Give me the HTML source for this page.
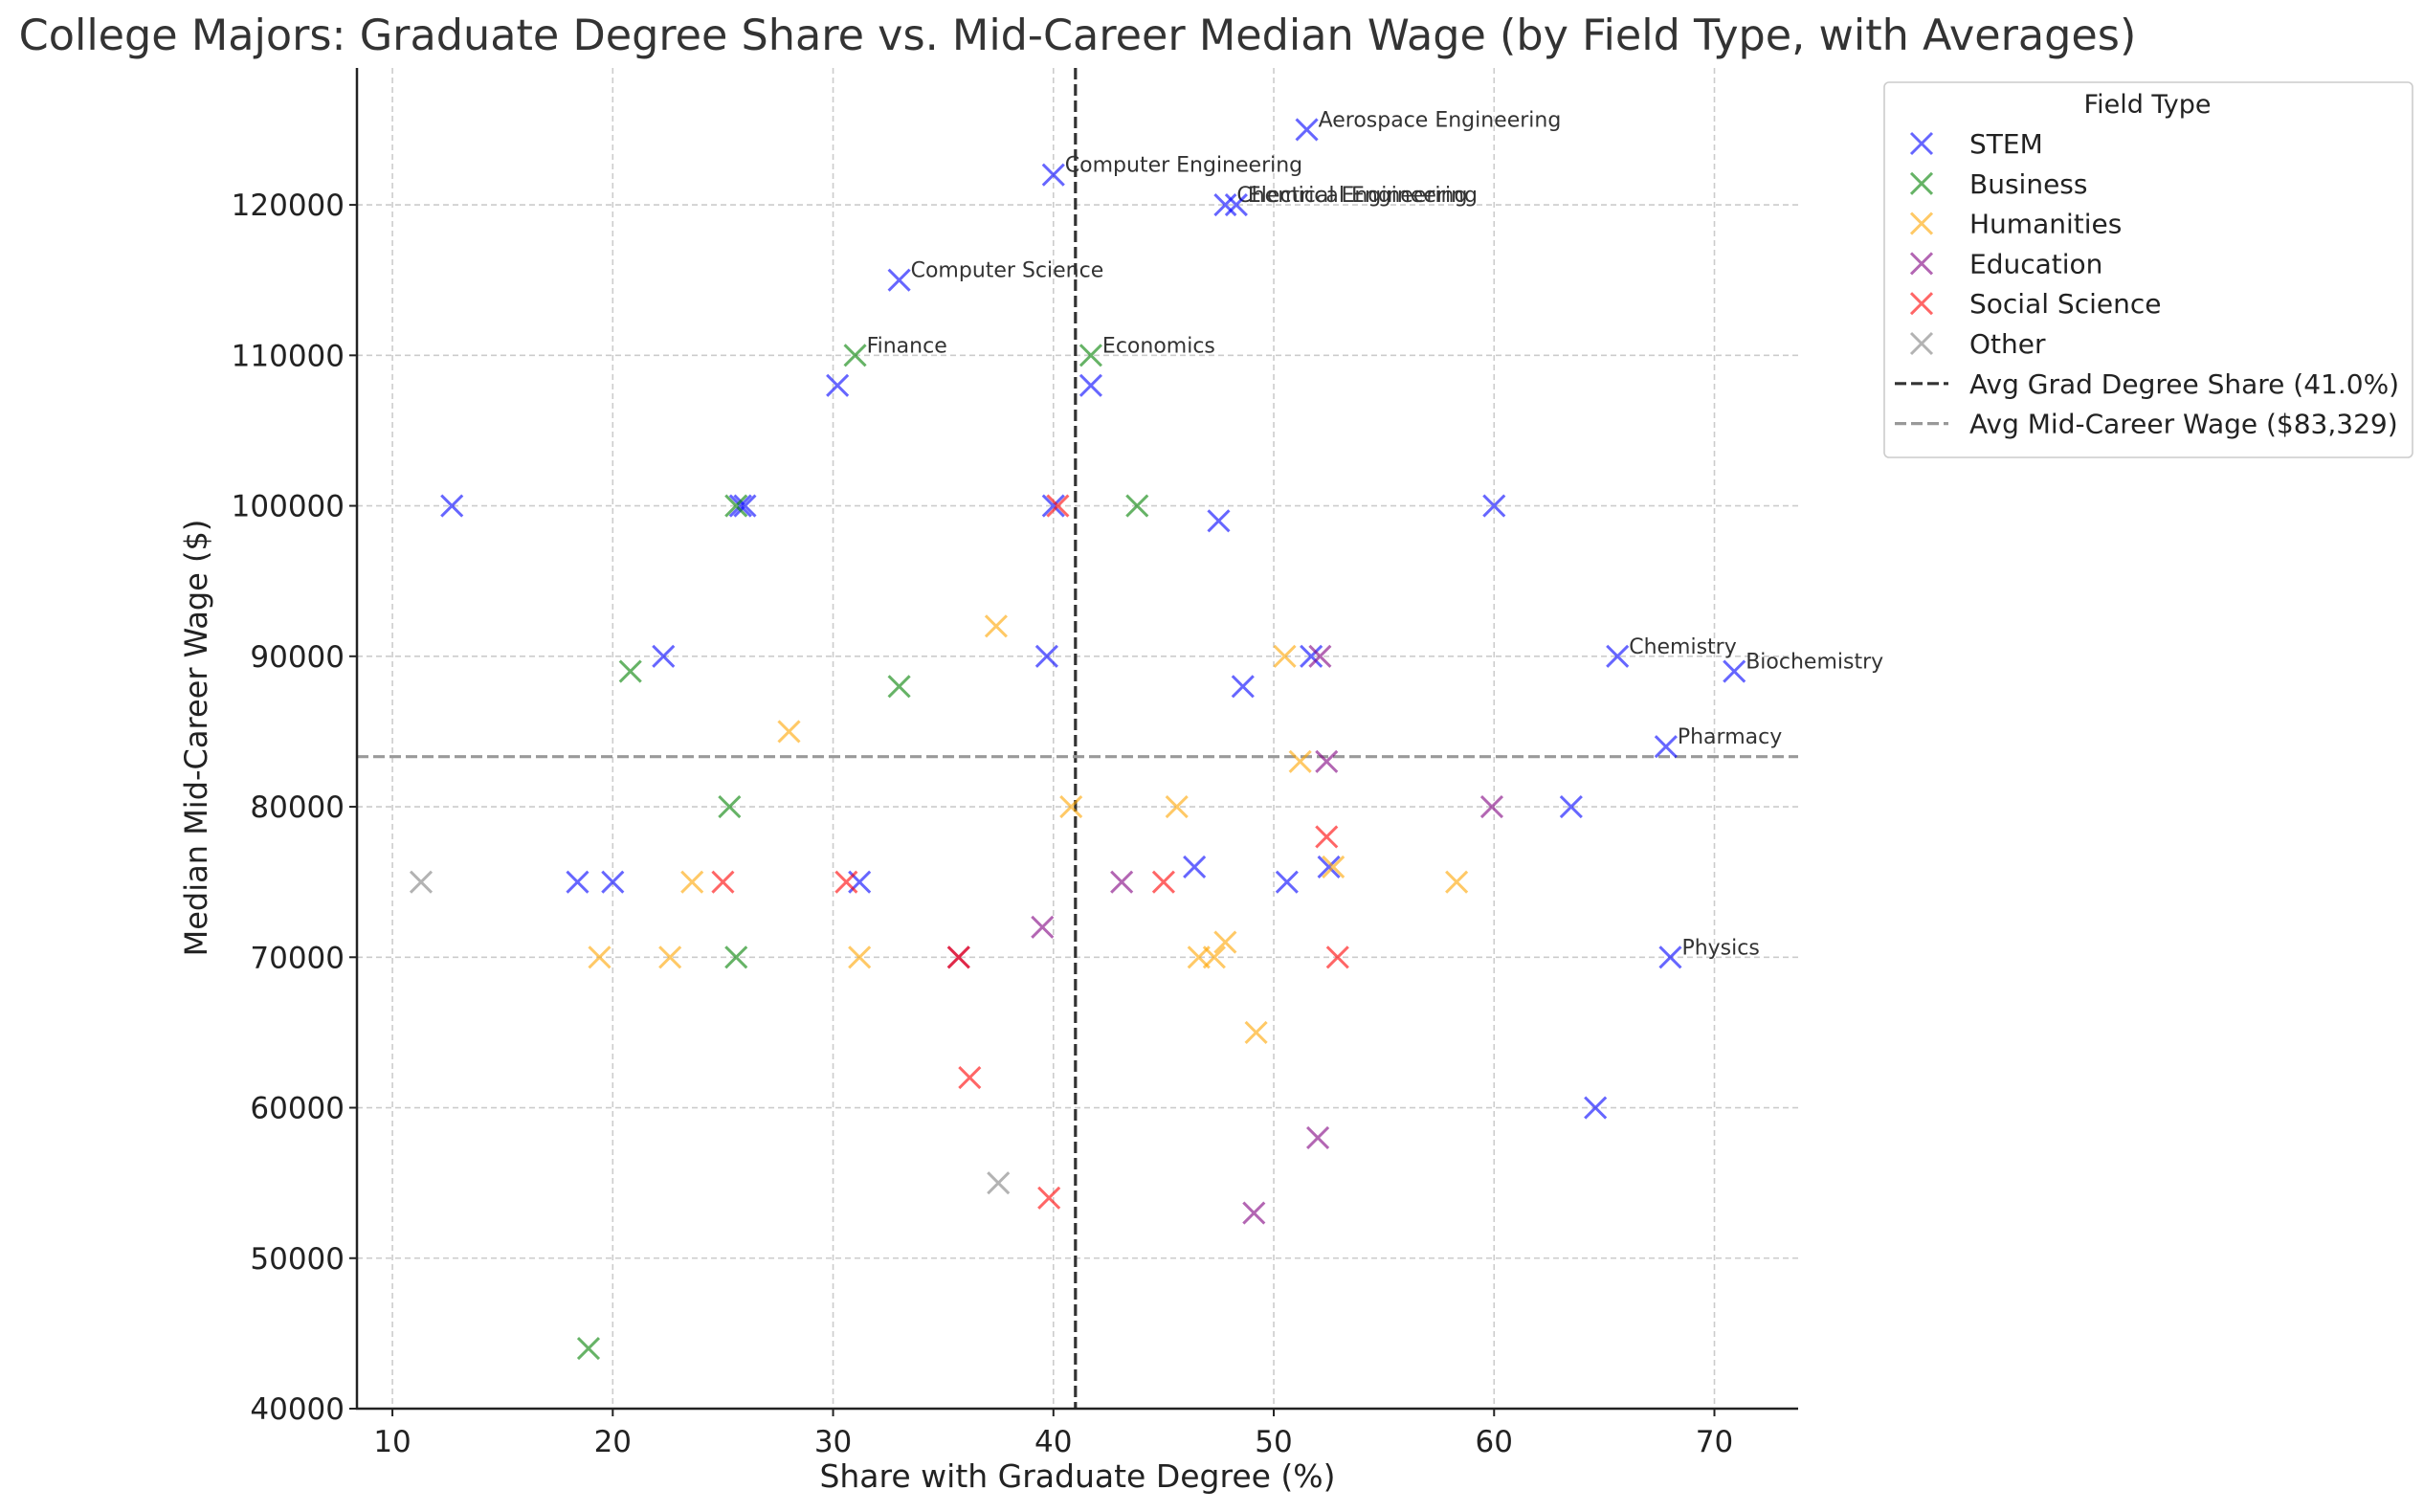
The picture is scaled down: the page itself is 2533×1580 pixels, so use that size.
<!DOCTYPE html>
<html><head><meta charset="utf-8"><style>
body{margin:0;background:#fff}
svg{display:block;font-family:"DejaVu Sans","Liberation Sans",sans-serif}
</style></head><body>
<svg id="chart" width="2533" height="1580" viewBox="0 0 2533 1580" xmlns="http://www.w3.org/2000/svg">
<text x="1126" y="52" font-size="44.5" fill="#333" text-anchor="middle">College Majors: Graduate Degree Share vs. Mid-Career Median Wage (by Field Type, with Averages)</text>
<g id="grid"></g><g id="avg"></g><g id="marks"></g><g id="axes"></g><g id="legend"></g>
</svg>
<script>
const categories = ["STEM","Business","Humanities","Education","Social Science","Other"];
const stemX = [51.5,40,47.8,48.3,33,30.2,41.7,12.7,25.8,26,40,47.5,60,22.3,39.7,51.7,48.6,65.6,70.9,67.8,63.5,46.4,52.5,50.6,18.4,20,31.2,68,64.6];
const stemY = [125000,122000,120000,120000,115000,108000,108000,100000,100000,100000,100000,99000,100000,90000,90000,90000,88000,90000,89000,84000,80000,76000,76000,75000,75000,75000,75000,70000,60000];
const stemLabels = ["Aerospace Engineering","Computer Engineering","Chemical Engineering","Electrical Engineering","Computer Science","","","","","","","","","","","","","Chemistry","Biochemistry","Pharmacy","","","","","","","","Physics",""];
const businessX = [31,41.7,25.6,43.8,20.8,33,25.3,25.6,18.9];
const businessY = [110000,110000,100000,100000,89000,88000,80000,70000,44000];
const businessLabels = ["Finance","Economics","","","","","","",""];
const humanitiesX = [37.4,28,50.5,51.2,40.8,45.6,52.7,58.3,23.6,19.4,22.6,31.2,46.6,47.3,47.8,49.2];
const humanitiesY = [92000,85000,90000,83000,80000,80000,76000,75000,75000,70000,70000,70000,70000,70000,71000,65000];
const educationX = [52.1,52.4,59.9,43.1,39.5,35.7,52,49.1];
const educationY = [90000,83000,80000,75000,72000,70000,58000,53000];
const socialX = [40.2,25,30.6,35.7,45,52.4,52.9,36.2,39.8];
const socialY = [100000,75000,75000,70000,75000,78000,70000,62000,54000];
const otherX = [11.3,37.5];
const otherY = [75000,55000];
const xTicks = [10,20,30,40,50,60,70];
const yTicks = [40000,50000,60000,70000,80000,90000,100000,110000,120000];
const avgX = 41.0, avgY = 83329;

const L=373,R=1879,T=71,B=1472,xMin=8.39,xMax=73.8,yMin=40000,yMax=129100;
const sx=v=>L+(v-xMin)/(xMax-xMin)*(R-L);
const sy=v=>B-(v-yMin)/(yMax-yMin)*(B-T);
const NS="http://www.w3.org/2000/svg";
function mk(tag,attrs,parent,text){const e=document.createElementNS(NS,tag);for(const k in attrs)e.setAttribute(k,attrs[k]);if(text!==undefined)e.textContent=text;document.getElementById(parent).appendChild(e);return e;}

xTicks.forEach(t=>{
 const g=mk('line',{x1:sx(t),x2:sx(t),y1:T,y2:B,stroke:'#ccc','stroke-width':1.6,'stroke-dasharray':'6,4'},'grid');
 
 
 const tk=mk('line',{x1:sx(t),x2:sx(t),y1:B,y2:B+8,stroke:'#222','stroke-width':2},'axes');
 
 
 const lb=mk('text',{x:sx(t),y:B+45,'font-size':31,'text-anchor':'middle',fill:'#222'},'axes',t);
 
 
});
yTicks.forEach(t=>{
 const g=mk('line',{x1:L,x2:R,y1:sy(t),y2:sy(t),stroke:'#ccc','stroke-width':1.6,'stroke-dasharray':'6,4'},'grid');
 
 
 const tk=mk('line',{x1:L-8,x2:L,y1:sy(t),y2:sy(t),stroke:'#222','stroke-width':2},'axes');
 
 
 const lb=mk('text',{x:L-13,y:sy(t)+11,'font-size':31,'text-anchor':'end',fill:'#222'},'axes',t);
 
 
});
const ax=mk('path',{d:`M${L},${T}V${B}H${R}`,fill:'none',stroke:'#222','stroke-width':2.5},'axes');


const xl=mk('text',{x:1126,y:1554,'font-size':33,'text-anchor':'middle',fill:'#222'},'axes','Share with Graduate Degree (%)');


const yl=mk('text',{x:0,y:0,'font-size':32,'text-anchor':'middle',fill:'#222',transform:`translate(216,771) rotate(-90)`},'axes','Median Mid-Career Wage ($)');



const va=mk('line',{x1:sx(avgX),x2:sx(avgX),y1:T,y2:B,stroke:'#333','stroke-width':3.2,'stroke-dasharray':'12,5'},'avg');


const ha=mk('line',{x1:L,x2:R,y1:sy(avgY),y2:sy(avgY),stroke:'#999','stroke-width':3.2,'stroke-dasharray':'12,5'},'avg');



const colors=['rgba(0,0,255,0.6)','rgba(0,128,0,0.6)','rgba(255,165,0,0.6)','rgba(128,0,128,0.6)','rgba(255,0,0,0.6)','rgba(128,128,128,0.6)'];
const series=[[stemX,stemY,stemLabels],[businessX,businessY,businessLabels],[humanitiesX,humanitiesY,null],[educationX,educationY,null],[socialX,socialY,null],[otherX,otherY,null]];
function cross(cx,cy,c,parent,name){
 const s=11;
 const p=mk('path',{d:`M${cx-s},${cy-s}L${cx+s},${cy+s}M${cx-s},${cy+s}L${cx+s},${cy-s}`,stroke:c,'stroke-width':3,fill:'none'},parent);
 
 
}
series.forEach((s,i)=>{
 s[0].forEach((x,j)=>{
  cross(sx(x),sy(s[1][j]),colors[i],'marks','point-'+categories[i].toLowerCase().replace(' ','-'));
  if(s[2]&&s[2][j]){
   const a=mk('text',{x:sx(x)+12,y:sy(s[1][j])-3,'font-size':22,fill:'#333'},'marks',s[2][j]);
   
   
  }
 });
});

const lb=mk('rect',{x:1969,y:86,width:552,height:392,rx:5,fill:'#fff',stroke:'#ccc','stroke-width':1.6},'legend');


const lt=mk('text',{x:2244,y:118,'font-size':27,'text-anchor':'middle',fill:'#222'},'legend','Field Type');


const entries=categories.concat(['Avg Grad Degree Share (41.0%)','Avg Mid-Career Wage ($83,329)']);
entries.forEach((e,i)=>{
 const y=150+i*41.8;
 if(i<6) cross(2008,y,colors[i],'legend','legend-marker');
 else{
  const l=mk('line',{x1:1980,x2:2036,y1:y,y2:y,stroke:i==6?'#333':'#999','stroke-width':3.2,'stroke-dasharray':'12,5'},'legend');
  
  
 }
 const t=mk('text',{x:2058,y:y+10,'font-size':28,fill:'#222'},'legend',e);
 
 
});
</script>
</body></html>
